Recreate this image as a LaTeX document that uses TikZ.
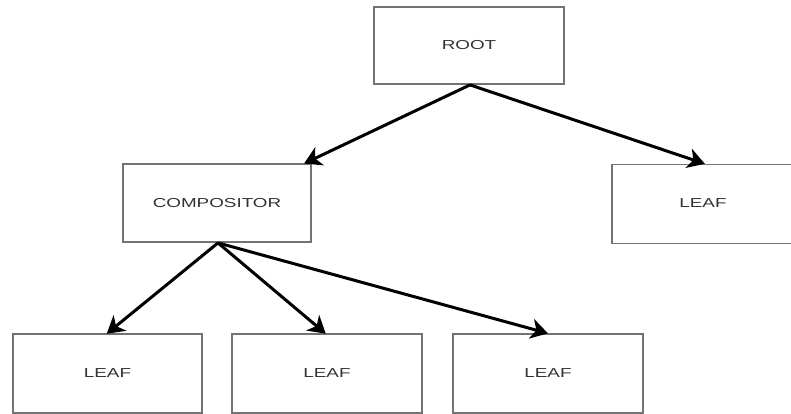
\documentclass[tikz,border=0pt]{standalone}
\usepackage{fontspec}
\setmainfont{Liberation Sans}
\usetikzlibrary{arrows.meta}
\newcommand{\boxlabel}[1]{\scalebox{1.45}[1]{#1}}
\begin{document}
\begin{tikzpicture}[x=1pt,y=-1pt,
  lbl/.style={font=\fontsize{13}{15}\selectfont,text=black!80},
  blk/.style={lbl,draw=black!55,line width=1.8pt,fill=white,inner sep=0pt},
  link/.style={line width=3pt,draw=black,
    -{Stealth[length=17pt,width=20pt,inset=5pt]},shorten >=-1pt}]
\clip (0,0) rectangle (791,414);
\useasboundingbox (0,0) rectangle (791,414);
\fill[white] (0,0) rectangle (791,414);
% boxes
\node[blk,minimum width=190pt,minimum height=77pt] (root) at (469,45.5) {\boxlabel{ROOT}};
\node[blk,minimum width=188pt,minimum height=78pt] (comp) at (217,203) {\boxlabel{COMPOSITOR}};
\node[blk,minimum width=190pt,minimum height=79pt,anchor=north west] (leafr) at (611,163.5) {};
\node[lbl] (leafrt) at (703,203) {\boxlabel{LEAF}};
\node[blk,minimum width=189pt,minimum height=79pt] (leafa) at (107.5,373.5) {\boxlabel{LEAF}};
\node[blk,minimum width=190pt,minimum height=79pt] (leafb) at (327,373.5) {\boxlabel{LEAF}};
\node[blk,minimum width=190pt,minimum height=79pt] (leafc) at (548,373.5) {\boxlabel{LEAF}};
% connectors
\coordinate (rootb) at ([xshift=1pt]root.south);
\coordinate (compb) at ([xshift=1pt]comp.south);
\draw[link] (rootb) -- ([xshift=88pt]comp.north);
\draw[link] (rootb) -- ([xshift=-3pt]leafr.north);
\draw[link] (compb) -- (leafa.north);
\draw[link] (compb) -- ([xshift=-2pt]leafb.north);
\draw[link] (compb) -- ([xshift=-1pt]leafc.north);
\end{tikzpicture}
\end{document}
